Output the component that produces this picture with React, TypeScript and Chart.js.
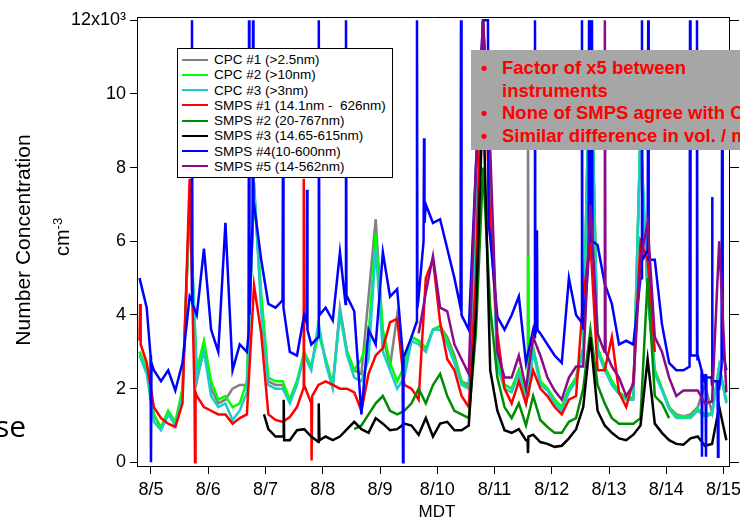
import React, { useEffect, useRef } from "react";
import { Chart, registerables } from "chart.js";

Chart.register(...registerables);

// ---- axis / tick data ----
const dayTicks = [0, 1, 2, 3, 4, 5, 6, 7, 8, 9, 10];
const dayLabels = ["8/5", "8/6", "8/7", "8/8", "8/9", "8/10", "8/11", "8/12", "8/13", "8/14", "8/15"];
const yTicks = [0, 2, 4, 6, 8, 10, 12];
const yTickLabels = ["0", "2", "4", "6", "8", "10", "12x10\u00B3"];

// days since 8/5 00:00 MDT; sample grid every 3 hours starting 8/4 19:12
const gridStart = -0.2;
const gridStep = 0.125;

// values in thousands (cm^-3), one per grid step
const cpc1 = [
  3.0, 2.5, 1.3, 0.9, 1.3, 1.05, 1.9, 7.0, 2.2, 3.1,
  2.0, 1.6, 1.7, 2.0, 2.1, 2.1, 7.5, 4.3, 2.2, 2.1,
  2.1, 1.7, 2.2, 2.9, 2.6, 3.6, 2.8, 2.1, 4.2, 3.0,
  2.5, 2.4, 4.5, 6.6, 3.4, 2.6, 4.0, 2.6, 3.4, 3.3,
  3.1, 3.6, 3.7, 3.4, 2.9, 2.2, 2.1, 6.2, 12, 7.8,
  2.8, 2.1, 2.0, 2.5, 1.8, 3.1, 2.2, 2.0, 1.7, 1.5,
  2.0, 2.3, 3.1, 12, 3.1, 2.6, 2.2, 1.9, 1.75, 1.75,
  9.0, 4.6, 2.5, 2.0, 1.5, 1.3, 1.25, 1.3, 1.5, 2.1,
  1.35, 2.6, 1.65,
];
const cpc2 = [
  3.0, 2.5, 1.3, 0.95, 1.4, 1.1, 2.0, 7.0, 2.5, 3.3,
  2.2, 1.7, 1.8, 1.5, 1.6, 2.2, 7.3, 4.6, 2.3, 2.2,
  2.2, 1.7, 2.2, 3.0, 2.6, 3.5, 2.8, 2.1, 4.0, 3.0,
  2.5, 2.8, 3.4, 6.2, 3.6, 2.7, 2.2, 2.6, 3.4, 3.3,
  3.1, 3.6, 3.7, 3.3, 2.8, 2.2, 2.0, 6.5, 12, 8.0,
  2.8, 2.1, 2.0, 2.5, 1.8, 3.1, 2.2, 2.0, 1.7, 1.5,
  2.0, 2.3, 3.1, 12, 3.1, 2.6, 2.2, 1.9, 1.75, 1.75,
  9.0, 4.6, 2.5, 2.0, 1.5, 1.25, 1.25, 1.25, 1.45, 1.3,
  1.35, 2.6, 1.65,
];
const cpc3 = [
  2.9, 2.4, 1.1, 0.87, 1.3, 1.0, 1.8, 7.2, 2.3, 3.0,
  1.8, 1.5, 1.6, 1.15, 1.4, 1.9, 7.6, 4.1, 2.1, 2.0,
  2.0, 1.6, 2.1, 2.9, 2.5, 3.8, 2.7, 2.0, 4.1, 2.9,
  2.3, 2.2, 2.8, 5.8, 3.0, 2.5, 2.0, 2.3, 3.3, 3.2,
  3.0, 3.6, 3.6, 3.2, 2.7, 2.1, 2.0, 6.0, 12, 7.5,
  2.6, 2.0, 1.9, 2.4, 1.6, 3.0, 2.1, 1.95, 1.6, 1.4,
  1.9, 2.2, 3.0, 12, 3.0, 2.5, 2.1, 1.85, 1.7, 1.7,
  9.0, 4.5, 2.4, 1.95, 1.45, 1.2, 1.2, 1.2, 1.4, 1.25,
  1.3, 2.6, 1.6,
];
const smps1 = [
  3.3, 2.7, 1.5, 1.2, 1.05, 0.96, 1.6, 7.7, 1.8, 1.5,
  1.4, 1.3, 1.3, 1.05, 1.2, 1.3, 4.8, 3.5, 1.3, 1.15,
  1.1, 1.23, 1.5, 2.1, 1.6, 2.1, 2.2, 2.1, 2.0, 2.0,
  1.9, 1.4, 2.4, 2.9, 3.1, 3.8, 3.9, 2.1, 2.0, 1.7,
  5.0, 5.5, 3.8, 2.8, 2.5, 1.8, 1.5, 5.0, 12, 6.5,
  3.5, 2.0, 1.6, 2.2, 1.6, 2.5, 2.0, 1.8, 1.5, 1.3,
  1.7, 1.8, 4.5, 6.0, 2.5, 2.5, 3.4, 1.9, 1.5, 2.2,
  6.0, 5.5, 3.0, null, null, null, null, null, null, null,
  null, null, null,
];
const smps2 = [
  null, null, null, null, null, null, null, null, null, null,
  null, null, null, null, null, null, null, null, null, null,
  null, null, null, null, null, null, null, null, null, null,
  0.9, 1.0, 1.3, 1.6, 1.8, 1.4, 1.3, 1.4, 1.6, 2.0,
  1.6, 2.1, 2.4, 1.8, 1.4, 1.3, 1.2, 3.5, 8.0, 4.2,
  2.3, 1.5, 1.2, 1.6, 1.0, 1.8, 1.15, 0.96, 0.8, 0.8,
  1.1, 1.2, 2.0, 3.6, 2.1, 1.6, 1.2, 1.05, 1.05, 1.05,
  1.2, 5.0, 1.8, 1.6, 1.2, null, null, null, null, null,
  null, null, null,
];
const smps3 = [
  null, null, null, null, null, null, null, null, null, null,
  null, null, null, null, null, null, null, null, 0.9, 0.7,
  0.7, 0.6, 0.87, 0.9, 0.7, 0.55, 0.7, 0.6, 0.7, 0.9,
  1.1, 0.9, 0.8, 1.2, 1.05, 0.87, 0.9, 1.05, 1.0, 0.75,
  1.2, 0.7, 1.05, 1.1, 0.87, 0.87, 1.0, 4.0, 10, 2.5,
  1.4, 0.87, 0.8, 0.9, 0.6, 0.75, 0.55, 0.5, 0.42, 0.45,
  0.65, 0.9, 1.5, 3.4, 1.4, 1.0, 0.8, 0.65, 0.6, 0.75,
  1.0, 2.8, 1.05, 0.8, 0.6, 0.5, 0.48, 0.65, 0.7, 0.45,
  0.5, 1.5, 0.6,
];
const smps4 = [
  5.0, 4.2, 2.5, 2.2, 2.5, 1.95, 2.7, 4.5, 4.0, 5.8,
  3.6, 3.0, 6.5, 2.5, 3.2, 3.0, 7.0, 5.5, 4.3, 4.2,
  4.4, 3.0, 2.9, 4.0, 3.2, 3.4, 4.2, 3.85, 5.7, 4.5,
  4.1, 1.3, 3.6, 3.2, 5.7, 4.5, 4.7, 2.9, 3.4, 4.5,
  7.0, 6.5, 6.6, 5.8, 5.0, 4.0, 3.6, 8.0, 12, 6.1,
  3.95, 3.6, 4.0, 4.5, 2.7, 3.6, 3.5, 3.2, 2.9, 2.7,
  5.0, 4.0, 3.6, 6.0, 5.9, 4.85, 4.3, 3.2, 3.3, 3.2,
  5.0, 5.75, 5.5, 3.75, 2.7, 2.5, 2.5, 2.9, 2.9, 2.2,
  2.1, 2.0, 2.5,
];
const smps5 = [
  null, null, null, null, null, null, null, null, null, null,
  null, null, null, null, null, null, null, null, null, null,
  null, null, null, null, null, null, null, null, null, null,
  null, null, null, null, null, null, null, null, null, 3.5,
  4.6, 5.6, 4.2, 4.1, 3.2, 2.8, 2.4, 8.0, 12, 8.5,
  3.0, 2.3, 2.3, 2.9, 2.0, 3.4, 2.9, 2.3, 1.95, 1.7,
  2.3, 2.6, 2.6, 7.0, 3.5, 3.0, 2.6, 2.3, 1.8, 2.1,
  5.5, 6.5, 3.4, 3.0, 2.3, 1.8, 1.95, 1.95, 1.95, 1.6,
  1.65, 6.0, 1.9,
];

// short events between grid samples: [day, value]
const cpc1Events = [[6.575, 1.8], [6.585, 10], [6.595, 1.8]];
const cpc2Events = [[6.575, 1.9], [6.585, 5.6], [6.595, 1.9]];
const cpc3Events = [];
const smps1Events = [
  [-0.19, 4.3], [-0.18, 3.2],
  [0.76, 1.9], [0.769, 0], [0.778, 1.9],
  [2.66, 2.0], [2.668, 7.7],
  [2.805, 0.05], [2.815, 1.8],
];
const smps2Events = [];
const smps3Events = [
  [1.974, 1.3],
  [2.31, 0.7], [2.318, 1.7], [2.326, 0.6],
  [2.925, 0.55], [2.934, 1.6], [2.943, 0.6],
  [6.578, 0.6], [6.585, 0.25], [6.592, 0.7],
];
const smps4Events = [
  [-0.008, 2.9], [0.0, 0], [0.008, 2.7],
  [0.708, 4.4], [0.716, 12], [0.724, 4.3],
  [1.704, 3.5], [1.712, 12], [1.72, 4.0],
  [1.774, 6.5], [1.782, 12], [1.79, 7.0],
  [2.298, 4.4], [2.306, 9.0], [2.314, 4.2],
  [2.717, 3.8], [2.725, 7.4], [2.733, 3.6],
  [2.928, 3.4], [2.934, 12], [2.942, 4.0],
  [3.398, 4.3], [3.406, 12], [3.414, 4.5],
  [4.394, 3.0], [4.402, 0], [4.41, 2.9],
  [4.638, 3.8], [4.646, 12], [4.654, 4.2],
  [4.761, 6.0], [4.769, 8.8], [4.777, 6.5],
  [5.407, 4.2], [5.415, 12], [5.423, 4.0],
  [5.886, 12], [5.895, 6.5],
  [6.699, 3.4], [6.707, 12], [6.715, 3.5],
  [6.734, 3.6], [6.742, 6.3], [6.75, 3.6],
  [7.52, 3.8], [7.528, 12], [7.536, 4.5],
  [7.643, 5.5], [7.651, 12], [7.659, 6.0],
  [7.695, 6.0], [7.703, 12], [7.711, 6.0],
  [8.568, 5.0], [8.576, 12], [8.584, 5.5],
  [8.677, 5.75], [8.685, 12], [8.693, 5.5],
  [9.407, 2.6], [9.415, 12], [9.423, 2.9],
  [9.529, 2.9], [9.537, 12], [9.545, 2.8],
  [9.616, 2.5], [9.624, 0.15], [9.632, 2.4],
  [9.686, 2.4], [9.694, 0.15], [9.702, 2.3],
  [9.792, 2.3], [9.801, 7.2], [9.808, 2.2],
  [9.896, 2.2], [9.904, 0.15], [9.912, 2.0],
  [9.966, 2.6], [9.974, 9.0], [9.982, 8.0], [9.99, 3.0],
];
const smps5Events = [[7.92, 3.0], [7.93, 12], [7.94, 3.0]];

const seriesLabels = [
  "CPC #1 (>2.5nm)",
  "CPC #2 (>10nm)",
  "CPC #3 (>3nm)",
  "SMPS #1 (14.1nm -  626nm)",
  "SMPS #2 (20-767nm)",
  "SMPS #3 (14.65-615nm)",
  "SMPS #4(10-600nm)",
  "SMPS #5 (14-562nm)",
];
const seriesColors = ["#808080", "#00ff00", "#1ecbcb", "#ff0000", "#008c00", "#000000", "#0000ff", "#8b0a8b"];
const seriesValues = [cpc1, cpc2, cpc3, smps1, smps2, smps3, smps4, smps5];
const seriesEvents = [cpc1Events, cpc2Events, cpc3Events, smps1Events, smps2Events, smps3Events, smps4Events, smps5Events];

const noteLines = [
  { bullet: true, text: "Factor of x5 between" },
  { bullet: false, text: "instruments" },
  { bullet: true, text: "None of SMPS agree with CPC" },
  { bullet: true, text: "Similar difference in vol. / mass" },
];

function buildPoints(values: (number | null)[], events: number[][]) {
  const pts: { x: number; y: number | null }[] = values.map((v, i) => ({ x: gridStart + gridStep * i, y: v }));
  events.forEach(([x, y]) => pts.push({ x, y }));
  pts.sort((a, b) => a.x - b.x);
  return pts;
}

const FONT = "'Liberation Sans', Arial, sans-serif";

const framePlugin = {
  id: "frameTop",
  afterDraw(chart: any) {
    const { ctx, chartArea } = chart;
    ctx.save();
    ctx.strokeStyle = "#000";
    ctx.lineWidth = 1;
    ctx.beginPath();
    ctx.moveTo(chartArea.left, chartArea.top + 0.5);
    ctx.lineTo(chartArea.right + 1, chartArea.top + 0.5);
    ctx.stroke();
    ctx.restore();
  },
};

export default function App() {
  const ref = useRef<HTMLCanvasElement | null>(null);

  useEffect(() => {
    if (!ref.current) return;
    const yMin = -0.1;
    const yMax = 12.09;
    const tickFont = { family: FONT, size: 18 };
    const chart = new Chart(ref.current, {
      type: "line",
      data: {
        datasets: seriesLabels.map((label, i) => ({
          label,
          data: buildPoints(seriesValues[i], seriesEvents[i]),
          borderColor: seriesColors[i],
          backgroundColor: seriesColors[i],
          borderWidth: 2.5,
          pointRadius: 0,
          tension: 0,
          spanGaps: false,
          fill: false,
          order: seriesLabels.length - i,
        })),
      },
      options: {
        responsive: false,
        animation: false,
        devicePixelRatio: 1,
        events: [],
        layout: { padding: { top: 17, left: 0, right: 0, bottom: 0 } },
        plugins: { legend: { display: false }, tooltip: { enabled: false } },
        scales: {
          x: {
            type: "linear",
            position: "bottom",
            min: -0.2445,
            max: 10.096,
            afterBuildTicks: (s: any) => {
              s.ticks = dayTicks.map((v) => ({ value: v }));
            },
            afterFit: (s: any) => {
              s.height = 54;
              s.paddingLeft = 0;
              s.paddingRight = 0;
            },
            ticks: {
              callback: (_v: any, i: number) => dayLabels[i],
              font: tickFont,
              color: "#000",
              padding: 5,
              maxRotation: 0,
              autoSkip: false,
            },
            grid: { drawOnChartArea: false, drawTicks: true, tickLength: 8, color: "#000", lineWidth: 1 },
            border: { display: true, color: "#000", width: 1 },
          },
          y: {
            type: "linear",
            position: "left",
            min: yMin,
            max: yMax,
            afterBuildTicks: (s: any) => {
              s.ticks = yTicks.map((v) => ({ value: v }));
            },
            afterFit: (s: any) => {
              s.width = 137;
              s.paddingTop = 0;
              s.paddingBottom = 0;
            },
            ticks: {
              callback: (_v: any, i: number) => yTickLabels[i],
              font: tickFont,
              color: "#000",
              padding: 4,
            },
            grid: { drawOnChartArea: false, drawTicks: true, tickLength: 7, color: "#000", lineWidth: 1 },
            border: { display: true, color: "#000", width: 1 },
          },
          y2: {
            type: "linear",
            position: "right",
            min: yMin,
            max: yMax,
            afterBuildTicks: (s: any) => {
              s.ticks = yTicks.map((v) => ({ value: v }));
            },
            afterFit: (s: any) => {
              s.width = 11;
              s.paddingTop = 0;
              s.paddingBottom = 0;
            },
            ticks: { callback: () => "", padding: 0 },
            grid: { drawOnChartArea: false, drawTicks: true, tickLength: 10, color: "#000", lineWidth: 1 },
            border: { display: true, color: "#000", width: 1 },
          },
        },
      },
      plugins: [framePlugin],
    } as any);
    return () => chart.destroy();
  }, []);

  return (
    <div
      style={{
        position: "absolute",
        left: 0,
        top: 0,
        width: 740,
        height: 520,
        overflow: "hidden",
        background: "#fff",
        fontFamily: FONT,
      }}
    >
      <canvas ref={ref} width={740} height={520} style={{ position: "absolute", left: 0, top: 0, width: 740, height: 520 }} />

      {/* y axis title */}
      <div
        style={{
          position: "absolute",
          left: 23,
          top: 240,
          transform: "translate(-50%, -50%) rotate(-90deg)",
          whiteSpace: "nowrap",
          fontSize: 21,
          lineHeight: "24px",
          color: "#000",
        }}
      >
        Number Concentration
      </div>
      <div
        style={{
          position: "absolute",
          left: 60,
          top: 237,
          transform: "translate(-50%, -50%) rotate(-90deg)",
          whiteSpace: "nowrap",
          fontSize: 20,
          lineHeight: "24px",
          color: "#000",
        }}
      >
        cm<sup style={{ fontSize: 13 }}>-3</sup>
      </div>

      {/* x axis title */}
      <div
        style={{
          position: "absolute",
          left: 437,
          top: 512,
          transform: "translate(-50%, -50%)",
          whiteSpace: "nowrap",
          fontSize: 17,
          color: "#000",
        }}
      >
        MDT
      </div>

      {/* slide text fragment */}
      <div
        style={{
          position: "absolute",
          left: -5,
          top: 408,
          fontFamily: "'Open Sans', sans-serif",
          fontSize: 30,
          lineHeight: "36px",
          color: "#000",
          whiteSpace: "nowrap",
        }}
      >
        se
      </div>

      {/* legend */}
      <div
        style={{
          position: "absolute",
          left: 177,
          top: 48,
          width: 216,
          height: 130,
          boxSizing: "border-box",
          border: "1px solid #000",
          background: "#fff",
        }}
      >
        {seriesLabels.map((label, i) => (
          <div
            key={label}
            style={{
              position: "absolute",
              left: 0,
              top: 3 + i * 15.25,
              height: 15,
              width: 214,
              display: "flex",
              alignItems: "center",
            }}
          >
            <div style={{ marginLeft: 4, width: 26, height: 2, background: seriesColors[i] }} />
            <div style={{ marginLeft: 6, fontSize: 13.5, whiteSpace: "pre", color: "#000" }}>{label}</div>
          </div>
        ))}
      </div>

      {/* annotation box */}
      <div
        style={{
          position: "absolute",
          left: 471,
          top: 50,
          width: 320,
          height: 100,
          background: "#a6a6a6",
        }}
      >
        {noteLines.map((ln, i) => (
          <div
            key={i}
            style={{
              position: "absolute",
              left: 0,
              top: 7 + i * 22.5,
              height: 22,
              width: 320,
              color: "#ff0000",
              fontWeight: "bold",
              fontSize: 18.5,
              lineHeight: "22px",
              whiteSpace: "nowrap",
            }}
          >
            {ln.bullet ? <span style={{ position: "absolute", left: 10 }}>{"\u2022"}</span> : null}
            <span style={{ position: "absolute", left: 31 }}>{ln.text}</span>
          </div>
        ))}
      </div>
    </div>
  );
}
